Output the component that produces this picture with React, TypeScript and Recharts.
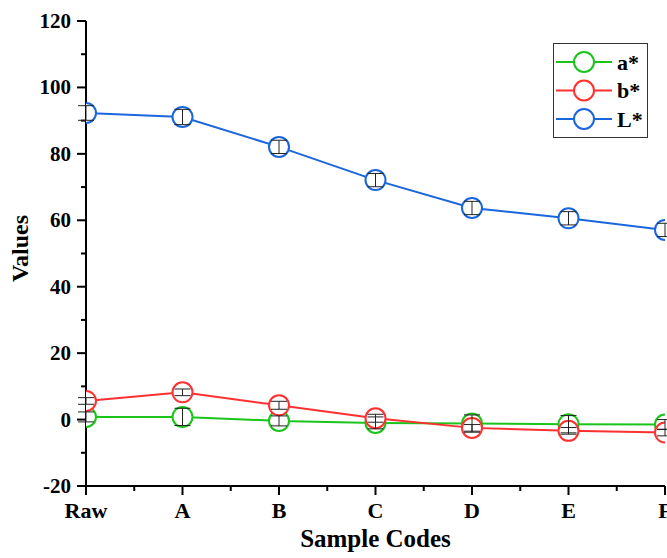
import React from "react"
import { LineChart, Line, XAxis, YAxis, ErrorBar } from "recharts"

const samples = ["Raw", "A", "B", "C", "D", "E", "F"]
const aStar = [0.8, 0.8, -0.4, -1.0, -1.2, -1.4, -1.5]
const bStar = [5.6, 8.2, 4.3, 0.4, -2.5, -3.4, -3.9]
const lStar = [92.3, 91.1, 82.1, 72.1, 63.7, 60.6, 57.1]
const aErr = [1.5, 2.6, 1.5, 1.8, 2.6, 2.6, 1.5]
const bErr = [1.0, 1.0, 1.2, 1.2, 1.0, 1.0, 1.0]
const lErr = [2.2, 2.3, 2.0, 2.0, 2.0, 2.0, 2.0]

const yTicks = [-20, -10, 0, 10, 20, 30, 40, 50, 60, 70, 80, 90, 100, 110, 120]
const xTicks = [0, 0.5, 1, 1.5, 2, 2.5, 3, 3.5, 4, 4.5, 5, 5.5, 6]

const series = [
  { key: "a", name: "a*", color: "#1bc41b", err: "aErr" },
  { key: "b", name: "b*", color: "#ff3030", err: "bErr" },
  { key: "L", name: "L*", color: "#1a66dd", err: "lErr" },
]

const data = samples.map((s, i) => ({
  idx: i,
  name: s,
  a: aStar[i],
  b: bStar[i],
  L: lStar[i],
  aErr: aErr[i],
  bErr: bErr[i],
  lErr: lErr[i],
}))

const FONT = "'Liberation Serif', 'Times New Roman', serif"

function YTick(props: any) {
  const { x, y, payload } = props
  const major = payload.value % 20 === 0
  return (
    <g>
      <line x1={x - (major ? 9 : 5)} x2={x} y1={y} y2={y} stroke="#000" strokeWidth={2} />
      {major && (
        <text
          x={x - 15}
          y={y}
          textAnchor="end"
          dominantBaseline="central"
          fontFamily={FONT}
          fontWeight="bold"
          fontSize={21}
          fill="#000"
        >
          {payload.value}
        </text>
      )}
    </g>
  )
}

function XTick(props: any) {
  const { x, y, payload } = props
  const major = Number.isInteger(payload.value)
  return (
    <g>
      <line x1={x} x2={x} y1={y} y2={y + (major ? 9 : 5)} stroke="#000" strokeWidth={2} />
      {major && (
        <text
          x={x}
          y={y + 32}
          textAnchor="middle"
          fontFamily={FONT}
          fontWeight="bold"
          fontSize={22}
          fill="#000"
        >
          {samples[payload.value]}
        </text>
      )}
    </g>
  )
}

function LegendBox() {
  return (
    <div
      style={{
        position: "absolute",
        left: 553,
        top: 43,
        width: 95,
        height: 95,
        border: "1.5px solid #333",
        background: "#fff",
        boxSizing: "border-box",
      }}
    >
      <svg width={92} height={92} style={{ display: "block" }}>
        {series.map((s, i) => {
          const cy = 18 + i * 28.5
          return (
            <g key={s.key}>
              <line x1={2} x2={58} y1={cy} y2={cy} stroke={s.color} strokeWidth={2} />
              <circle cx={30} cy={cy} r={10} fill="#fff" stroke={s.color} strokeWidth={2} />
              <text
                x={63}
                y={cy}
                dominantBaseline="central"
                fontFamily={FONT}
                fontWeight="bold"
                fontSize={22}
                fill="#000"
              >
                {s.name}
              </text>
            </g>
          )
        })}
      </svg>
    </div>
  )
}

export default function App() {
  return (
    <div style={{ position: "absolute", left: 0, top: 0, width: 667, height: 558, background: "#fff" }}>
      <LineChart
        width={667}
        height={558}
        data={data}
        margin={{ top: 21, right: 2, left: 0, bottom: 0 }}
      >
        <XAxis
          dataKey="idx"
          type="number"
          domain={[0, 6]}
          ticks={xTicks}
          interval={0}
          allowDataOverflow
          tickSize={0}
          tickMargin={0}
          tickLine={false}
          tick={<XTick />}
          height={72}
          axisLine={{ stroke: "#000", strokeWidth: 2 }}
          label={{
            value: "Sample Codes",
            position: "insideBottom",
            offset: 11,
            fontFamily: FONT,
            fontWeight: "bold",
            fontSize: 25,
            fill: "#000",
          }}
        />
        <XAxis
          xAxisId="top"
          orientation="top"
          type="number"
          domain={[0, 6]}
          height={0}
          tick={false}
          tickLine={false}
          axisLine={{ stroke: "#000", strokeWidth: 2 }}
        />
        <YAxis
          domain={[-20, 120]}
          ticks={yTicks}
          interval={0}
          width={86}
          allowDataOverflow
          tickSize={0}
          tickMargin={0}
          tickLine={false}
          tick={<YTick />}
          axisLine={{ stroke: "#000", strokeWidth: 2 }}
          label={{
            content: (p: any) => {
              const vb = p.viewBox
              const cx = vb.x + 20
              const cy = vb.y + vb.height / 2 - 5
              return (
                <text
                  x={cx}
                  y={cy}
                  transform={`rotate(-90 ${cx} ${cy})`}
                  textAnchor="middle"
                  dominantBaseline="central"
                  fontFamily={FONT}
                  fontWeight="bold"
                  fontSize={24}
                  fill="#000"
                >
                  Values
                </text>
              )
            },
          }}
        />
        <YAxis
          yAxisId="right"
          orientation="right"
          domain={[-20, 120]}
          width={0}
          tick={false}
          tickLine={false}
          axisLine={{ stroke: "#000", strokeWidth: 2 }}
        />
        {series.map((s) => (
          <Line
            key={s.key}
            dataKey={s.key}
            name={s.name}
            stroke={s.color}
            strokeWidth={2}
            dot={{ r: 10, fill: "#fff", stroke: s.color, strokeWidth: 2, clipDot: true }}
            activeDot={false}
            isAnimationActive={false}
          >
            <ErrorBar
              dataKey={s.err}
              direction="y"
              width={8}
              stroke="#222"
              strokeWidth={1}
              {...({ zIndex: 2000 } as any)}
            />
          </Line>
        ))}
      </LineChart>
      <LegendBox />
    </div>
  )
}
